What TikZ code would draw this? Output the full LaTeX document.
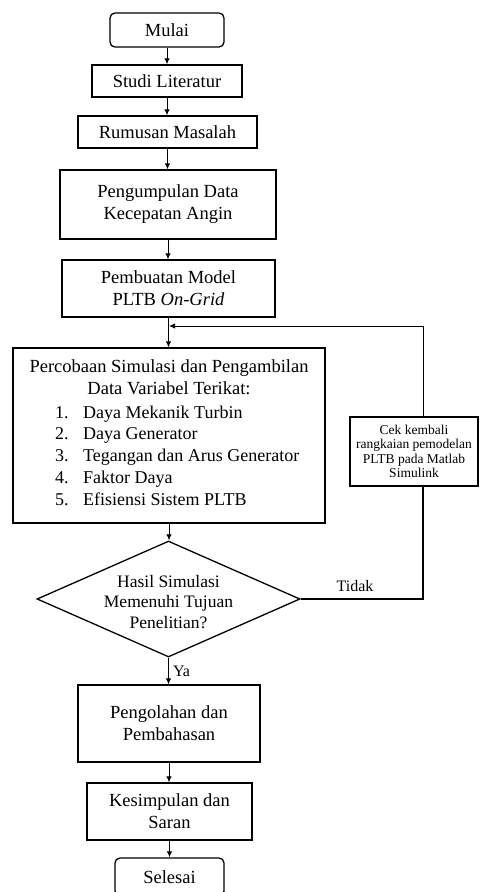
\documentclass[tikz,border=0pt]{standalone}
\usepackage{fontspec}
\setmainfont{Liberation Serif}
\usetikzlibrary{shapes.geometric,arrows.meta}
\begin{document}
\begin{tikzpicture}[x=1pt,y=-1pt,
  box/.style={draw, line width=1.3pt, inner sep=0pt, align=center, font=\fontsize{18.5}{22}\selectfont},
  term/.style={box, rounded corners=5pt},
  txt/.style={inner sep=0pt, align=center, font=\fontsize{18.5}{22.3}\selectfont},
  arr/.style={-{Latex[length=6pt,width=5.5pt]}, line width=1pt},
  ln/.style={line width=1.1pt}]
\useasboundingbox (0,0) rectangle (480,892);
\clip (0,0) rectangle (480,892);

\node[term, minimum width=114pt, minimum height=34pt] (mulai) at (167,30) {Mulai};
\node[box, minimum width=150pt, minimum height=32pt] (studi) at (167,81) {Studi Literatur};
\node[box, minimum width=179pt, minimum height=32pt] (rumus) at (167.5,132) {Rumusan Masalah};
\node[box, minimum width=216pt, minimum height=69pt] (kumpul) at (168,204.5) {Pengumpulan Data\\Kecepatan Angin};
\node[box, minimum width=213pt, minimum height=57pt] (model) at (168.5,288.5) {Pembuatan Model\\PLTB \textit{On-Grid}};

\node[box, minimum width=312pt, minimum height=175pt] (perc) at (169,435.5) {};
\node[txt] (perctitle) at (169,377) {Percobaan Simulasi dan Pengambilan\\Data Variabel Terikat:};
\node[txt, align=left, anchor=west, font=\fontsize{18}{21.8}\selectfont] (perclist) at (55,455.5) {%
\makebox[28pt][l]{1.}Daya Mekanik Turbin\\
\makebox[28pt][l]{2.}Daya Generator\\
\makebox[28pt][l]{3.}Tegangan dan Arus Generator\\
\makebox[28pt][l]{4.}Faktor Daya\\
\makebox[28pt][l]{5.}Efisiensi Sistem PLTB};

\node[draw, diamond, line width=1.3pt, inner sep=0pt, minimum width=263pt, minimum height=116pt, aspect=2.27] (dia) at (168.5,599) {};
\node[txt, font=\fontsize{17.5}{20.5}\selectfont] (diatext) at (168.5,602) {Hasil Simulasi\\Memenuhi Tujuan\\Penelitian?};

\node[box, minimum width=128pt, minimum height=69pt, font=\fontsize{13.5}{14.5}\selectfont] (cek) at (414,451.5) {Cek kembali\\rangkaian pemodelan\\PLTB pada Matlab\\Simulink};

\node[box, minimum width=182pt, minimum height=77pt] (olah) at (169,723.5) {Pengolahan dan\\Pembahasan};
\node[box, minimum width=165pt, minimum height=57pt] (simpul) at (169.5,811.5) {Kesimpulan dan\\Saran};
\node[term, minimum width=109pt, minimum height=38pt] (selesai) at (169.5,877) {Selesai};

\coordinate (c1) at (423,599);
\coordinate (c2) at (423,326);
\coordinate (c3) at (169,326);

\draw[arr] (mulai.south) -- (mulai.south |- studi.north);
\draw[arr] (studi.south) -- (studi.south |- rumus.north);
\draw[arr] (rumus.south) -- (rumus.south |- kumpul.north);
\draw[arr] (kumpul.south) -- (kumpul.south |- model.north);
\draw[arr] (model.south) -- (model.south |- perc.north);
\draw[arr] (perc.south) -- (perc.south |- dia.north);
\draw[arr] (dia.south) -- node[right, inner sep=4pt, font=\fontsize{16}{18}\selectfont] (ya) {Ya} (dia.south |- olah.north);
\draw[arr] (olah.south) -- (olah.south |- simpul.north);
\draw[arr] (simpul.south) -- (simpul.south |- selesai.north);

\draw[ln] (dia.east) -- (c1) -- (c1 |- cek.south);
\draw[arr] (c1 |- cek.north) -- (c2) -- (c3);
\node[font=\fontsize{16}{18}\selectfont, inner sep=0pt] (tidak) at (355,586) {Tidak};
\end{tikzpicture}
\end{document}
